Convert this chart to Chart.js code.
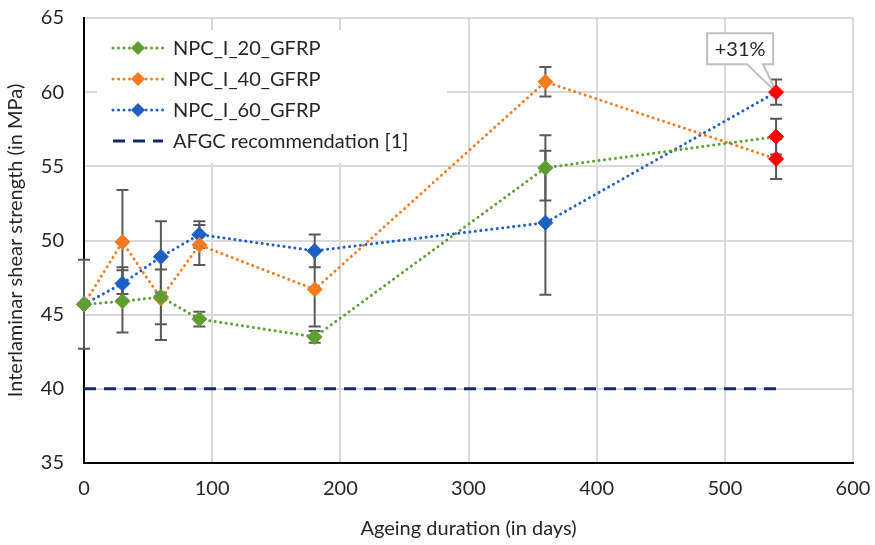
<!DOCTYPE html>
<html lang="en">
<head>
<meta charset="UTF-8">
<title>Interlaminar shear strength vs ageing duration</title>
<script src="https://cdn.jsdelivr.net/npm/chart.js"></script>
<style>
  html, body { margin: 0; padding: 0; background: #fff; }
  canvas { display: block; }
</style>
</head>
<body>
<canvas id="chart" width="875" height="545"></canvas>
<script>
// ageing duration (days)
var days = [0, 30, 60, 90, 180, 360, 540];

// mean interlaminar shear strength (MPa) and error bar half-widths
var npc20 = [45.7, 45.9, 46.2, 44.7, 43.5, 54.9, 57.0];
var npc20Err = [3.0, 2.1, 1.85, 0.5, 0.4, 2.2, 1.2];
var npc40 = [45.7, 49.9, 46.1, 49.7, 46.7, 60.7, 55.5];
var npc40Err = [0, 3.5, 2.8, 1.35, 2.5, 1.0, 1.35];
var npc60 = [45.7, 47.1, 48.9, 50.4, 49.3, 51.2, 60.0];
var npc60Err = [0, 1.1, 2.4, 0.9, 1.1, 4.85, 0.85];

var seriesNames = ['NPC_I_20_GFRP', 'NPC_I_40_GFRP', 'NPC_I_60_GFRP'];
var seriesColors = ['#5e9e33', '#f47b20', '#1f5fc4'];

// AFGC recommended minimum
var afgcName = 'AFGC recommendation [1]';
var afgcDays = [0, 540];
var afgcValues = [40, 40];

var gainLabel = '+31%';

var FONT = "Lato, 'Open Sans', sans-serif";
var TXT = '#262626';

function pts(xs, ys) {
    return xs.map(function (x, i) { return { x: x, y: ys[i] }; });
}

function lastRed(color, n) {
    var arr = [];
    for (var i = 0; i < n; i++) arr.push(i === n - 1 ? '#ff0000' : color);
    return arr;
}

function seriesDataset(i, values) {
    return {
        label: seriesNames[i],
        data: pts(days, values),
        borderColor: seriesColors[i],
        borderWidth: 3,
        borderDash: [0.01, 5.5],
        borderCapStyle: 'round',
        pointStyle: 'rectRot',
        pointRadius: 7.5,
        pointHoverRadius: 7.5,
        pointBackgroundColor: lastRed(seriesColors[i], days.length),
        pointBorderColor: lastRed(seriesColors[i], days.length),
        pointBorderWidth: 1,
        fill: false,
        tension: 0,
        clip: false
    };
}

var errorSets = [[npc20, npc20Err], [npc40, npc40Err], [npc60, npc60Err]];

// error bars, legend box and callout drawn with the chart's scales
var extras = {
    id: 'extras',
    beforeDatasetsDraw: function (chart) {
        var ctx = chart.ctx, xs = chart.scales.x, ys = chart.scales.y;
        ctx.save();
        ctx.strokeStyle = '#595959';
        ctx.lineWidth = 2;
        errorSets.forEach(function (s) {
            days.forEach(function (d, i) {
                if (!s[1][i]) return;
                var px = xs.getPixelForValue(d);
                var top = ys.getPixelForValue(s[0][i] + s[1][i]);
                var bot = ys.getPixelForValue(s[0][i] - s[1][i]);
                ctx.beginPath();
                ctx.moveTo(px, top); ctx.lineTo(px, bot);
                ctx.moveTo(px - 6, top); ctx.lineTo(px + 6, top);
                ctx.moveTo(px - 6, bot); ctx.lineTo(px + 6, bot);
                ctx.stroke();
            });
        });

        // callout for last NPC_I_60 point
        var tx = xs.getPixelForValue(days[days.length - 1]);
        var ty = ys.getPixelForValue(npc60[npc60.length - 1]);
        var l = tx - 69, r = tx - 3, t = ty - 59, b = ty - 28;
        ctx.beginPath();
        ctx.moveTo(l, t); ctx.lineTo(r, t); ctx.lineTo(r, b);
        ctx.lineTo(tx - 13, b); ctx.lineTo(tx, ty); ctx.lineTo(tx - 29, b);
        ctx.lineTo(l, b); ctx.closePath();
        ctx.fillStyle = '#fff';
        ctx.fill();
        ctx.strokeStyle = '#bfbfbf';
        ctx.lineWidth = 2;
        ctx.stroke();
        ctx.fillStyle = TXT;
        ctx.font = '20px ' + FONT;
        ctx.textAlign = 'center';
        ctx.textBaseline = 'middle';
        ctx.fillText(gainLabel, (l + r) / 2, (t + b) / 2 + 1);

        // legend
        var a = chart.chartArea;
        var lx = a.left + 13, ly = a.top + 12;
        ctx.fillStyle = '#fff';
        ctx.fillRect(lx, ly, 350, 133);
        var items = chart.data.datasets;
        items.forEach(function (ds, k) {
            var y = ly + 18 + k * 31;
            var x0 = lx + 16, x1 = lx + 66;
            ctx.save();
            ctx.strokeStyle = ds.borderColor;
            ctx.lineWidth = ds.borderWidth;
            ctx.lineCap = ds.borderCapStyle || 'butt';
            ctx.setLineDash(ds.borderDash || []);
            ctx.beginPath(); ctx.moveTo(x0, y); ctx.lineTo(x1, y); ctx.stroke();
            ctx.restore();
            if (ds.pointRadius) {
                var c = (x0 + x1) / 2, rr = 7;
                ctx.fillStyle = ds.borderColor;
                ctx.beginPath();
                ctx.moveTo(c, y - rr); ctx.lineTo(c + rr, y);
                ctx.lineTo(c, y + rr); ctx.lineTo(c - rr, y);
                ctx.closePath(); ctx.fill();
            }
            ctx.fillStyle = TXT;
            ctx.font = '20px ' + FONT;
            ctx.textAlign = 'left';
            ctx.textBaseline = 'middle';
            ctx.fillText(ds.label, x1 + 10, y + 1);
        });
        ctx.restore();
    }
};

var datasets = [
    seriesDataset(0, npc20),
    seriesDataset(1, npc40),
    seriesDataset(2, npc60),
    {
        label: afgcName,
        data: pts(afgcDays, afgcValues),
        borderColor: '#14296b',
        borderWidth: 3,
        borderDash: [12, 8],
        pointRadius: 0,
        pointHoverRadius: 0,
        fill: false,
        clip: false
    }
];

new Chart(document.getElementById('chart').getContext('2d'), {
    type: 'line',
    data: { datasets: datasets },
    plugins: [extras],
    options: {
        responsive: false,
        animation: false,
        devicePixelRatio: 1,
        layout: { padding: { top: 18, right: 22, left: 0, bottom: 0 } },
        plugins: {
            legend: { display: false },
            tooltip: { enabled: false }
        },
        scales: {
            x: {
                type: 'linear',
                min: 0, max: 600,
                ticks: { stepSize: 100, color: TXT, font: { family: FONT, size: 20 }, padding: 14 },
                grid: { color: '#d9d9d9', lineWidth: 2, drawTicks: false },
                border: { color: '#000', width: 2 },
                title: { display: true, text: 'Ageing duration (in days)', color: TXT,
                         font: { family: FONT, size: 20 }, padding: { top: 6, bottom: 4 } },
                afterFit: function (s) {
                    s.height = 82;
                    s.paddingLeft = 0; s.paddingRight = 0;
                }
            },
            y: {
                min: 35, max: 65,
                ticks: { stepSize: 5, color: TXT, font: { family: FONT, size: 20 }, padding: 20 },
                grid: { color: '#d9d9d9', lineWidth: 2, drawTicks: false },
                border: { color: '#000', width: 2 },
                title: { display: true, text: 'Interlaminar shear strength (in MPa)', color: TXT,
                         font: { family: FONT, size: 20 }, padding: { top: 4, bottom: 4 } },
                afterFit: function (s) {
                    s.width = 84;
                    s.paddingTop = 0; s.paddingBottom = 0;
                }
            }
        }
    }
});
</script>
</body>
</html>
